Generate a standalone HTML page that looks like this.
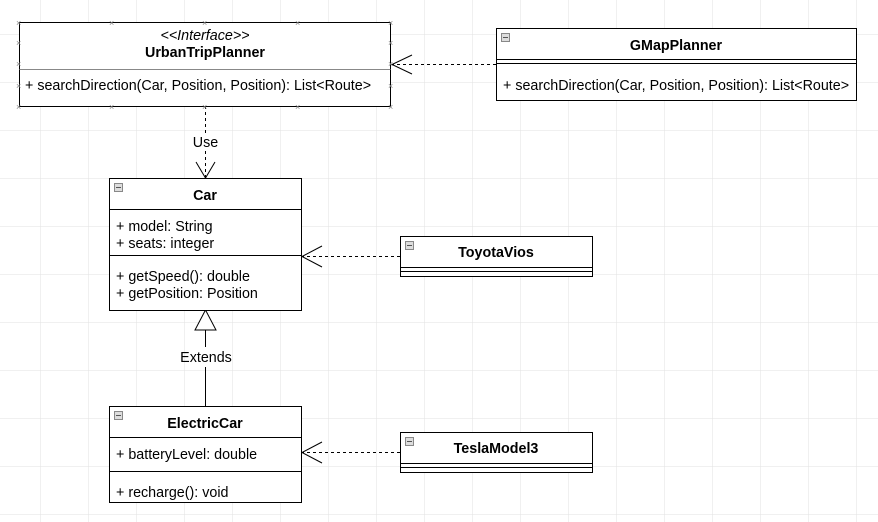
<!DOCTYPE html>
<html><head><meta charset="utf-8"><style>
html,body{margin:0;padding:0;background:#fff;}
svg{display:block;}
text{font-family:"Liberation Sans",Arial,sans-serif;font-size:14.3px;fill:#000;}
.b{font-weight:bold;}
.x{font-size:9px;fill:#888;}
</style></head><body>
<svg width="878" height="522" viewBox="0 0 878 522" xmlns="http://www.w3.org/2000/svg">
<defs>
<pattern id="g" x="40" y="34" width="48" height="48" patternUnits="userSpaceOnUse">
<path d="M0 0H48M0 0V48" stroke="#e2e2e2" stroke-width="1" fill="none"/>
</pattern>
</defs>
<rect width="878" height="522" fill="url(#g)"/>

<g stroke="#000" stroke-width="1" fill="none">
<line x1="205.5" y1="106" x2="205.5" y2="133" stroke-dasharray="3,3"/>
<line x1="205.5" y1="151" x2="205.5" y2="178" stroke-dasharray="3,3"/>
<polyline points="196,162 205.5,178 215,162"/>
<line x1="391" y1="64.5" x2="496" y2="64.5" stroke-dasharray="3,3"/>
<polyline points="412,55 392,64.5 412,74"/>
<line x1="301" y1="256.5" x2="400" y2="256.5" stroke-dasharray="3,3"/>
<polyline points="322,246 302,256.5 322,267"/>
<line x1="301" y1="452.5" x2="400" y2="452.5" stroke-dasharray="3,3"/>
<polyline points="322,442 302,452.5 322,463"/>
<line x1="205.5" y1="330" x2="205.5" y2="347"/>
<line x1="205.5" y1="367" x2="205.5" y2="406"/>
<polygon points="195,330 216,330 205.5,310" fill="#fff"/>
</g>
<text x="205.5" y="147" text-anchor="middle">Use</text>
<text x="206" y="362" text-anchor="middle">Extends</text>

<rect x="19.5" y="22.5" width="371" height="84" fill="#fff" stroke="#000"/>
<line x1="19.5" y1="69.5" x2="390.5" y2="69.5" stroke="#888"/>
<text x="205" y="40" text-anchor="middle" font-style="italic">&lt;&lt;Interface&gt;&gt;</text>
<text x="205" y="57" text-anchor="middle" class="b">UrbanTripPlanner</text>
<text x="25" y="90">+ searchDirection(Car, Position, Position): List&lt;Route&gt;</text>
<g>
<text class="x" x="16" y="26">×</text><text class="x" x="109" y="26">×</text><text class="x" x="202" y="26">×</text><text class="x" x="295" y="26">×</text><text class="x" x="388" y="26">×</text>
<text class="x" x="16" y="110">×</text><text class="x" x="109" y="110">×</text><text class="x" x="202" y="110">×</text><text class="x" x="295" y="110">×</text><text class="x" x="388" y="110">×</text>
<text class="x" x="16" y="46">×</text><text class="x" x="16" y="67">×</text><text class="x" x="16" y="89">×</text>
<text class="x" x="388" y="46">×</text><text class="x" x="388" y="67">×</text><text class="x" x="388" y="89">×</text>
</g>

<rect x="496.5" y="28.5" width="360" height="72" fill="#fff" stroke="#000"/>
<line x1="496.5" y1="59.5" x2="856.5" y2="59.5" stroke="#000"/>
<line x1="496.5" y1="63.5" x2="856.5" y2="63.5" stroke="#000"/>
<rect x="501.5" y="33.5" width="8" height="8" fill="#ddd" stroke="#888"/>
<line x1="503" y1="37.5" x2="508" y2="37.5" stroke="#555"/>
<text x="676" y="50" text-anchor="middle" class="b">GMapPlanner</text>
<text x="503" y="90">+ searchDirection(Car, Position, Position): List&lt;Route&gt;</text>

<rect x="109.5" y="178.5" width="192" height="132" fill="#fff" stroke="#000"/>
<line x1="109.5" y1="209.5" x2="301.5" y2="209.5" stroke="#000"/>
<line x1="109.5" y1="255.5" x2="301.5" y2="255.5" stroke="#000"/>
<rect x="114.5" y="183.5" width="8" height="8" fill="#ddd" stroke="#888"/>
<line x1="116" y1="187.5" x2="121" y2="187.5" stroke="#555"/>
<text x="205" y="200" text-anchor="middle" class="b">Car</text>
<text x="116" y="231">+ model: String</text>
<text x="116" y="248">+ seats: integer</text>
<text x="116" y="281">+ getSpeed(): double</text>
<text x="116" y="298">+ getPosition: Position</text>

<rect x="400.5" y="236.5" width="192" height="40" fill="#fff" stroke="#000"/>
<line x1="400.5" y1="267.5" x2="592.5" y2="267.5" stroke="#000"/>
<line x1="400.5" y1="271.5" x2="592.5" y2="271.5" stroke="#000"/>
<rect x="405.5" y="241.5" width="8" height="8" fill="#ddd" stroke="#888"/>
<line x1="407" y1="245.5" x2="412" y2="245.5" stroke="#555"/>
<text x="496" y="257" text-anchor="middle" class="b">ToyotaVios</text>

<rect x="109.5" y="406.5" width="192" height="96" fill="#fff" stroke="#000"/>
<line x1="109.5" y1="437.5" x2="301.5" y2="437.5" stroke="#000"/>
<line x1="109.5" y1="471.5" x2="301.5" y2="471.5" stroke="#000"/>
<rect x="114.5" y="411.5" width="8" height="8" fill="#ddd" stroke="#888"/>
<line x1="116" y1="415.5" x2="121" y2="415.5" stroke="#555"/>
<text x="205" y="428" text-anchor="middle" class="b">ElectricCar</text>
<text x="116" y="459">+ batteryLevel: double</text>
<text x="116" y="497">+ recharge(): void</text>

<rect x="400.5" y="432.5" width="192" height="40" fill="#fff" stroke="#000"/>
<line x1="400.5" y1="463.5" x2="592.5" y2="463.5" stroke="#000"/>
<line x1="400.5" y1="467.5" x2="592.5" y2="467.5" stroke="#000"/>
<rect x="405.5" y="437.5" width="8" height="8" fill="#ddd" stroke="#888"/>
<line x1="407" y1="441.5" x2="412" y2="441.5" stroke="#555"/>
<text x="496" y="453" text-anchor="middle" class="b">TeslaModel3</text>
</svg>
</body></html>
